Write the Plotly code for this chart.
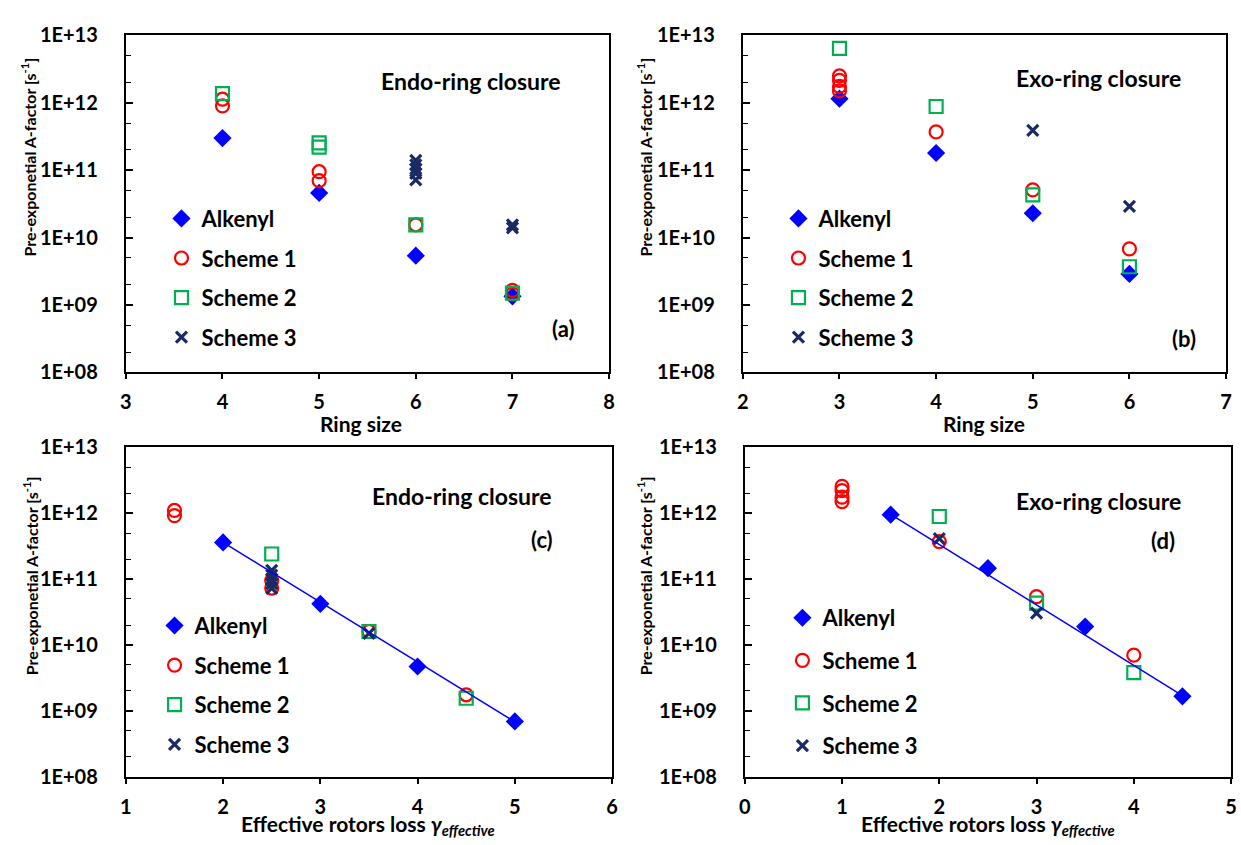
import plotly.graph_objects as go

W, H = 1241, 845

# ---------------- data ----------------
series_names = ["Alkenyl", "Scheme 1", "Scheme 2", "Scheme 3"]

# Panel (a) Endo-ring closure vs ring size
a_alk_x = [4, 5, 6, 7]
a_alk_y = [3.0e11, 4.6e10, 5.4e9, 1.35e9]
a_s1_x = [4, 4, 5, 5, 6, 7, 7]
a_s1_y = [1.13e12, 9.0e11, 9.5e10, 7.0e10, 1.55e10, 1.65e9, 1.45e9]
a_s2_x = [4, 5, 5, 6, 7]
a_s2_y = [1.37e12, 2.55e11, 2.2e11, 1.55e10, 1.5e9]
a_s3_x = [6, 6, 6, 6, 6, 7, 7]
a_s3_y = [1.4e11, 1.2e11, 1.05e11, 9.0e10, 7.2e10, 1.55e10, 1.4e10]

# Panel (b) Exo-ring closure vs ring size
b_alk_x = [3, 4, 5, 6]
b_alk_y = [1.15e12, 1.8e11, 2.3e10, 2.9e9]
b_s1_x = [3, 3, 3, 3, 4, 5, 6]
b_s1_y = [2.5e12, 2.15e12, 1.75e12, 1.5e12, 3.7e11, 5.1e10, 6.8e9]
b_s2_x = [3, 4, 5, 6]
b_s2_y = [6.4e12, 8.8e11, 4.3e10, 3.7e9]
b_s3_x = [5, 6]
b_s3_y = [3.9e11, 2.9e10]

# Panel (c) Endo-ring closure vs effective rotors loss
c_alk_x = [2, 3, 4, 5]
c_alk_y = [3.6e11, 4.2e10, 4.7e9, 6.9e8]
c_s1_x = [1.5, 1.5, 2.5, 2.5, 3.5, 4.5]
c_s1_y = [1.1e12, 9.2e11, 9.5e10, 7.3e10, 1.6e10, 1.75e9]
c_s2_x = [2.5, 3.5, 4.5]
c_s2_y = [2.4e11, 1.6e10, 1.55e9]
c_s3_x = [2.5, 2.5, 2.5, 2.5, 2.5, 3.5]
c_s3_y = [1.35e11, 1.15e11, 1.0e11, 8.5e10, 7.2e10, 1.5e10]
c_fit_x = [2, 5]
c_fit_y = [3.6e11, 6.8e8]

# Panel (d) Exo-ring closure vs effective rotors loss
d_alk_x = [1.5, 2.5, 3.5, 4.5]
d_alk_y = [9.5e11, 1.46e11, 1.9e10, 1.66e9]
d_s1_x = [1, 1, 1, 1, 2, 3, 4]
d_s1_y = [2.55e12, 2.2e12, 1.75e12, 1.5e12, 3.7e11, 5.4e10, 7.0e9]
d_s2_x = [2, 3, 4]
d_s2_y = [8.9e11, 4.3e10, 3.8e9]
d_s3_x = [2, 3]
d_s3_y = [4.1e11, 3.05e10]
d_fit_x = [1.5, 4.5]
d_fit_y = [9.6e11, 1.7e9]

y_tickvals = [1e8, 1e9, 1e10, 1e11, 1e12, 1e13]
y_ticktext = ["1E+08", "1E+09", "1E+10", "1E+11", "1E+12", "1E+13"]
x_ticks = [[3, 4, 5, 6, 7, 8], [2, 3, 4, 5, 6, 7], [1, 2, 3, 4, 5, 6], [0, 1, 2, 3, 4, 5]]

panel_titles = ["Endo-ring closure", "Exo-ring closure", "Endo-ring closure", "Exo-ring closure"]
panel_labels = ["(a)", "(b)", "(c)", "(d)"]
x_titles = ["Ring size", "Ring size",
            "Effective rotors loss <i>γ<sub>effective</sub></i>",
            "Effective rotors loss <i>γ<sub>effective</sub></i>"]
y_title = "Pre-exponetial A-factor [s<sup>-1</sup>]"

panels = [
    [(a_alk_x, a_alk_y), (a_s1_x, a_s1_y), (a_s2_x, a_s2_y), (a_s3_x, a_s3_y), None],
    [(b_alk_x, b_alk_y), (b_s1_x, b_s1_y), (b_s2_x, b_s2_y), (b_s3_x, b_s3_y), None],
    [(c_alk_x, c_alk_y), (c_s1_x, c_s1_y), (c_s2_x, c_s2_y), (c_s3_x, c_s3_y), (c_fit_x, c_fit_y)],
    [(d_alk_x, d_alk_y), (d_s1_x, d_s1_y), (d_s2_x, d_s2_y), (d_s3_x, d_s3_y), (d_fit_x, d_fit_y)],
]

# ---------------- styling ----------------
FONT = "Lato"
BLUE = "#0000FF"
RED = "#FF0000"
GREEN = "#00B050"
NAVY = "#1A2A64"

marker_styles = [
    dict(symbol="diamond", size=14, color=BLUE, line=dict(width=0)),
    dict(symbol="circle-open", size=13, color=RED, line=dict(width=2.2, color=RED)),
    dict(symbol="square-open", size=13, color=GREEN, line=dict(width=2.2, color=GREEN)),
    dict(symbol="x-thin-open", size=11, color=NAVY, line=dict(width=3.2, color=NAVY)),
]

# pixel boxes of plot areas: (left, right, top, bottom)
boxes = [
    (121, 609, 23, 370),
    (744, 1232, 23, 370),
    (121, 612, 447, 786),
    (746, 1237, 447, 786),
]

def px_x(p):
    return p / W

def px_y(p):
    return 1 - p / H

fig = go.Figure()

legend_names = ["legend", "legend2", "legend3", "legend4"]
legend_pos = [(157, 190), (780, 190), (150, 609), (784, 601)]
legend_gaps = [8, 8, 8, 11]

for i, pan in enumerate(panels):
    xa = "x" if i == 0 else f"x{i+1}"
    ya = "y" if i == 0 else f"y{i+1}"
    for k in range(4):
        xs, ys = pan[k]
        fig.add_trace(go.Scatter(
            x=xs, y=ys, mode="markers", name=f"<b>{series_names[k]}</b>",
            marker=marker_styles[k], xaxis=xa, yaxis=ya,
            legend=legend_names[i], legendgroup=f"g{i}_{k}",
        ))
    if pan[4] is not None:
        fx, fy = pan[4]
        fig.add_trace(go.Scatter(
            x=fx, y=fy, mode="lines", line=dict(color=BLUE, width=1.5),
            xaxis=xa, yaxis=ya, showlegend=False, legend=legend_names[i],
        ))

layout = dict(
    width=W, height=H,
    margin=dict(l=0, r=0, t=0, b=0),
    paper_bgcolor="white", plot_bgcolor="white",
    font=dict(family=FONT, color="black"),
    showlegend=True,
)

tickfont = dict(family=FONT, size=20, color="black")

for i in range(4):
    l, r, t, b = boxes[i]
    xk = "xaxis" if i == 0 else f"xaxis{i+1}"
    yk = "yaxis" if i == 0 else f"yaxis{i+1}"
    ya_ref = "y" if i == 0 else f"y{i+1}"
    xa_ref = "x" if i == 0 else f"x{i+1}"
    xt = x_ticks[i]
    layout[xk] = dict(
        domain=[px_x(l), px_x(r)], anchor=ya_ref,
        range=[xt[0], xt[-1]],
        tickvals=xt, ticktext=[f"<b>{v}</b>" for v in xt],
        showline=True, linecolor="black", linewidth=2, mirror=True,
        ticks="outside", ticklen=5, tickwidth=2, tickcolor="black",
        showgrid=False, zeroline=False,
        tickfont=tickfont, ticklabelstandoff=6,
    )
    layout[yk] = dict(
        domain=[px_y(b), px_y(t)], anchor=xa_ref,
        type="log", range=[8, 13],
        tickvals=y_tickvals, ticktext=[f"<b>{s}</b>" for s in y_ticktext],
        showline=True, linecolor="black", linewidth=2, mirror=True,
        ticks="inside", ticklen=7, tickwidth=1.5, tickcolor="black",
        minor=dict(ticks="inside", ticklen=5, tickwidth=1.2, tickcolor="black", showgrid=False),
        showgrid=False, zeroline=False,
        tickfont=tickfont, ticklabelstandoff=22,
    )
    lx, ly = legend_pos[i]
    layout[legend_names[i]] = dict(
        x=px_x(lx), y=px_y(ly), xanchor="left", yanchor="top",
        bgcolor="rgba(0,0,0,0)", borderwidth=0,
        traceorder="grouped", tracegroupgap=legend_gaps[i],
        font=dict(family=FONT, size=22, color="black"),
        itemsizing="trace",
    )

fig.update_layout(**layout)

# annotations: panel titles, labels, axis titles
title_pos = [(470, 70), (1103, 67), (460, 497), (1103, 502)]
label_pos = [(562, 325), (1190, 335), (541, 542), (1168, 543)]
xtitle_pos = [(358, 422), (988, 422), (366, 836), (992, 836)]
ytitle_pos = [(23, 148), (645, 148), (25, 579), (645, 579)]

for i in range(4):
    fig.add_annotation(text=f"<b>{panel_titles[i]}</b>", xref="paper", yref="paper",
                       x=px_x(title_pos[i][0]), y=px_y(title_pos[i][1]),
                       xanchor="center", yanchor="middle", showarrow=False,
                       font=dict(family=FONT, size=23, color="black"))
    fig.add_annotation(text=f"<b>{panel_labels[i]}</b>", xref="paper", yref="paper",
                       x=px_x(label_pos[i][0]), y=px_y(label_pos[i][1]),
                       xanchor="center", yanchor="middle", showarrow=False,
                       font=dict(family=FONT, size=22, color="black"))
    fig.add_annotation(text=f"<b>{x_titles[i]}</b>", xref="paper", yref="paper",
                       x=px_x(xtitle_pos[i][0]), y=px_y(xtitle_pos[i][1]),
                       xanchor="center", yanchor="middle", showarrow=False,
                       font=dict(family=FONT, size=21, color="black"))
    fig.add_annotation(text=f"<b>{y_title}</b>", xref="paper", yref="paper",
                       x=px_x(ytitle_pos[i][0]), y=px_y(ytitle_pos[i][1]),
                       xanchor="center", yanchor="middle", showarrow=False, textangle=-90,
                       font=dict(family=FONT, size=16, color="black"))

fig.write_html("out.html")
